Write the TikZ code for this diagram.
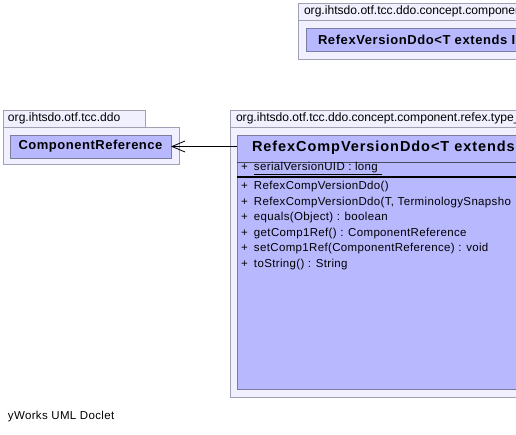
\documentclass[tikz,border=0pt]{standalone}
\usepackage{fontspec}
\setmainfont{Liberation Sans}
\usetikzlibrary{arrows.meta,positioning}
\definecolor{pkgfill}{HTML}{F0F0FF}
\definecolor{pkgline}{HTML}{A0A0B4}
\definecolor{clsfill}{HTML}{B8B8FF}
\definecolor{clsline}{HTML}{7C7CA0}

\begin{document}
\begin{tikzpicture}[
    x=1pt, y=-1pt,
    every node/.style={inner sep=0pt, outer sep=0pt},
    pkg/.style={draw=pkgline, fill=pkgfill, anchor=north west},
    pkgname/.style={anchor=west, font=\fontsize{12.1}{14}\selectfont},
    cls/.style={draw=clsline, fill=clsfill, anchor=north west},
    clsname/.style={font=\bfseries\fontsize{13}{15}\selectfont\addfontfeature{LetterSpace=#1}},
    clsname/.default=5,
    member/.style={anchor=west, font=\fontsize{11.5}{13}\selectfont\addfontfeature{LetterSpace=3}}
]
\useasboundingbox (0,0) rectangle (516,435);
\clip (0,0) rectangle (516,435);

% Packages
\node[pkg, minimum width=260, minimum height=17] (versiontab) at (298,3) {};
\node[pkg, minimum width=260, minimum height=39] (versionpkg) at (298,20) {};
\node[pkgname] (versionlbl) at (304,11.5) {org.ihtsdo.otf.tcc.ddo.concept.component};

\node[pkg, minimum width=142, minimum height=17] (ddotab) at (3,110) {};
\node[pkg, minimum width=176, minimum height=37] (ddopkg) at (3,127) {};
\node[pkgname] (ddolbl) at (8,118.5) {org.ihtsdo.otf.tcc.ddo};

\node[pkg, minimum width=320, minimum height=17] (typetab) at (230,110) {};
\node[pkg, minimum width=320, minimum height=270] (typepkg) at (230,127) {};
\node[pkgname] (typelbl) at (236,118.5) {org.ihtsdo.otf.tcc.ddo.concept.component.refex.type\_};

% Classes
\node[cls, minimum width=250, minimum height=23] (version) at (306,28) {};
\node[clsname=4.5, anchor=west] (versiontitle) at (318,40) {RefexVersionDdo<T extends I};

\node[cls, minimum width=161, minimum height=23] (compref) at (10,135) {};
\node[clsname=4] (compreftitle) at (compref.center) {ComponentReference};

\node[cls, minimum width=300, minimum height=254] (compversion) at (237,135) {};
\node[anchor=west, font=\bfseries\fontsize{14.5}{16}\selectfont\addfontfeature{LetterSpace=6.5}] (compversiontitle) at (252,148) {RefexCompVersionDdo<T extends};
\draw[clsline!60!black] (compversion.north west) ++(0,27) -- ++(300,0);
\draw[black, line width=1.8pt] (compversion.north west) ++(0,42) -- ++(300,0);

% Members
\node[member] (serial) at (241,168.5) {\makebox[13pt][l]{+}\underline{serialVersionUID : long\,\,}};
\node[member] (ctor) at (241,187) {\makebox[13pt][l]{+}RefexCompVersionDdo()};
\node[member] (ctorargs) at (241,202.5) {\makebox[13pt][l]{+}RefexCompVersionDdo(T, TerminologySnapsho};
\node[member] (equals) at (241,218) {\makebox[13pt][l]{+}equals(Object) : boolean};
\node[member] (getref) at (241,233.5) {\makebox[13pt][l]{+}getComp1Ref() : ComponentReference};
\node[member] (setref) at (241,249) {\makebox[13pt][l]{+}setComp1Ref(ComponentReference) : void};
\node[member] (tostring) at (241,264.5) {\makebox[13pt][l]{+}toString() : String};

% Footer
\node[member] (doclet) at (8,417) {yWorks UML Doclet};

% Connections
\draw[-{Straight Barb[length=13pt, width=11pt]}, line width=0.8pt] (compversion.west |- compref.east) -- (compref.east);

\end{tikzpicture}
\end{document}
